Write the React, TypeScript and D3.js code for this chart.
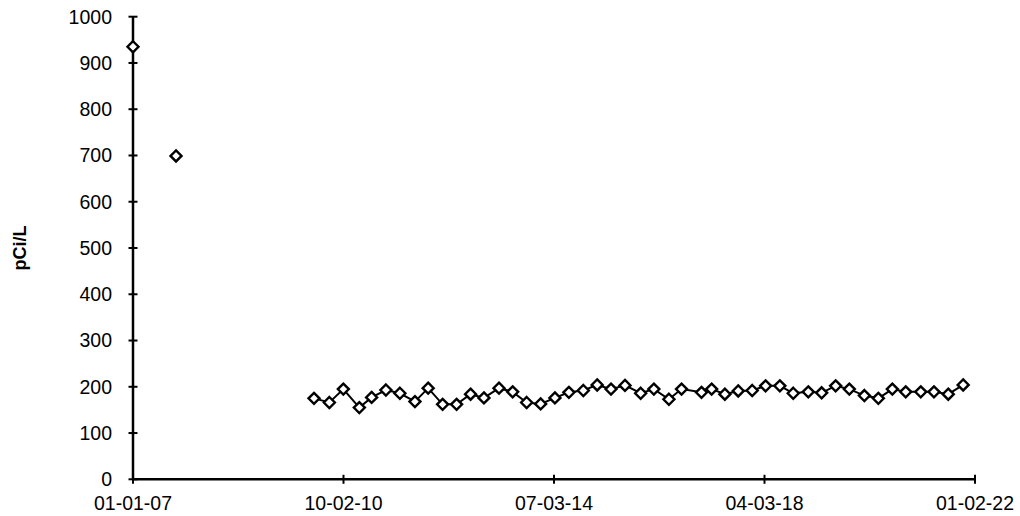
import React from "react";
import * as d3 from "d3";

const earlyDates = ["2007-01-01", "2007-10-08"];
const earlyValues = [935, 699];

const seriesDates = [
  "2010-03-24", "2010-07-02", "2010-10-01", "2011-01-13", "2011-04-03", "2011-07-05",
  "2011-10-04", "2012-01-10", "2012-04-05", "2012-07-08", "2012-10-07", "2013-01-06",
  "2013-04-03", "2013-07-10", "2013-10-07", "2014-01-06", "2014-04-07", "2014-07-09",
  "2014-10-08", "2015-01-10", "2015-04-10", "2015-07-09", "2015-10-08", "2016-01-18",
  "2016-04-13", "2016-07-20", "2016-10-10", "2017-02-17", "2017-04-24", "2017-07-19",
  "2017-10-14", "2018-01-13", "2018-04-10", "2018-07-12", "2018-10-07", "2019-01-13",
  "2019-04-10", "2019-07-10", "2019-10-07", "2020-01-13", "2020-04-13", "2020-07-13",
  "2020-10-08", "2021-01-14", "2021-04-10", "2021-07-12", "2021-10-17",
];
const seriesValues = [
  175, 166, 195, 155, 177, 193, 186, 168, 197, 162, 162, 184,
  176, 197, 189, 166, 163, 176, 188, 192, 204, 195, 203, 186,
  195, 173, 195, 188, 195, 184, 191, 192, 202, 202, 186, 189,
  187, 202, 195, 181, 175, 195, 189, 189, 189, 184, 204,
];

const xTickDates = ["2007-01-01", "2010-10-02", "2014-07-03", "2018-04-03", "2022-01-02"];
const yTicks = [0, 100, 200, 300, 400, 500, 600, 700, 800, 900, 1000];
const yLabel = "pCi/L";

const parse = d3.timeParse("%Y-%m-%d");
const fmt = d3.timeFormat("%m-%d-%y");

export default function App() {
  const x = d3
    .scaleTime()
    .domain([parse("2007-01-01")!, parse("2022-01-02")!])
    .range([133, 975]);
  const y = d3.scaleLinear().domain([0, 1000]).range([479.3, 16.7]);

  const main = seriesDates.map((d, i) => ({ d: parse(d)!, v: seriesValues[i] }));
  const early = earlyDates.map((d, i) => ({ d: parse(d)!, v: earlyValues[i] }));

  const line = d3
    .line<{ d: Date; v: number }>()
    .x((p) => x(p.d))
    .y((p) => y(p.v));

  const r = 5.5;
  const diamond = (cx: number, cy: number) =>
    `M${cx},${cy - r}L${cx + r},${cy}L${cx},${cy + r}L${cx - r},${cy}Z`;

  const font = "'Liberation Sans', Arial, sans-serif";
  const x0 = x.range()[0];
  const y0 = y(0);

  return (
    <svg
      width={1020}
      height={516}
      style={{ position: "absolute", left: 0, top: 0, background: "#fff" }}
      fontFamily={font}
    >
      <rect width={1020} height={516} fill="#fff" />
      {/* y axis */}
      <line x1={x0} x2={x0} y1={y(1000)} y2={y0} stroke="#000" strokeWidth={2.5} />
      {yTicks.map((t) => (
        <g key={t}>
          <line x1={x0 - 4.5} x2={x0 + 4.5} y1={y(t)} y2={y(t)} stroke="#000" strokeWidth={2} />
          <text x={112} y={y(t)} dy="0.35em" textAnchor="end" fontSize={19.5} fill="#000">
            {t}
          </text>
        </g>
      ))}
      {/* x axis */}
      <line x1={x0} x2={x.range()[1]} y1={y0} y2={y0} stroke="#000" strokeWidth={2.5} />
      {xTickDates.map((s) => {
        const xv = x(parse(s)!);
        return (
          <g key={s}>
            <line x1={xv} x2={xv} y1={y0 - 4.5} y2={y0 + 4.5} stroke="#000" strokeWidth={2} />
            <text x={xv} y={509.5} textAnchor="middle" fontSize={19.5} fill="#000">
              {fmt(parse(s)!)}
            </text>
          </g>
        );
      })}
      {/* y label */}
      <text
        transform={`translate(26,248) rotate(-90)`}
        textAnchor="middle"
        fontSize={18}
        fontWeight="bold"
        fill="#000"
      >
        {yLabel}
      </text>
      {/* series line */}
      <path d={line(main) || ""} fill="none" stroke="#000" strokeWidth={2} />
      {main.map((p, i) => (
        <path key={"m" + i} d={diamond(x(p.d), y(p.v))} fill="#fff" stroke="#000" strokeWidth={2.4} />
      ))}
      {early.map((p, i) => (
        <path key={"e" + i} d={diamond(x(p.d), y(p.v))} fill="#fff" stroke="#000" strokeWidth={2.4} />
      ))}
    </svg>
  );
}
